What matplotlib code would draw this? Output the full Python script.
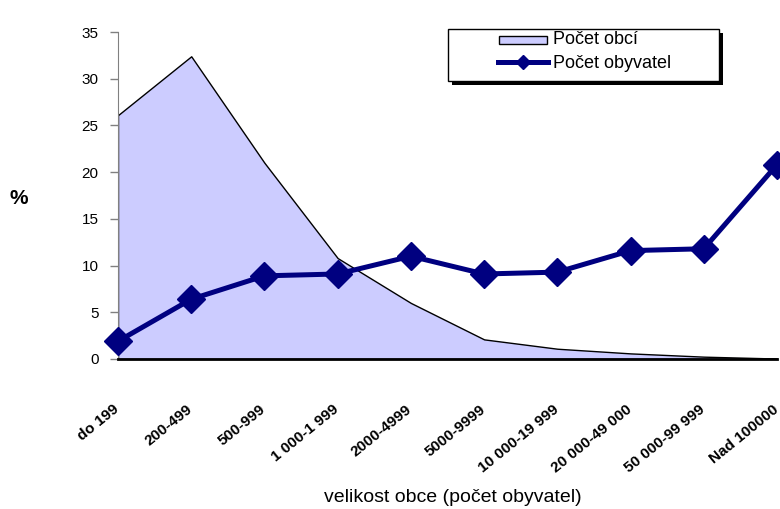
import matplotlib
matplotlib.use("Agg")
import matplotlib.pyplot as plt
from matplotlib.patches import Rectangle
from matplotlib.lines import Line2D
from matplotlib.transforms import ScaledTranslation

plt.rcParams['font.family'] = ['Liberation Sans', 'DejaVu Sans']

categories = ["do 199", "200-499", "500-999", "1 000-1 999", "2000-4999", "5000-9999",
              "10 000-19 999", "20 000-49 000", "50 000-99 999", "Nad 100000"]
pocet_obci = [26.1, 32.4, 21.0, 10.8, 6.0, 2.1, 1.1, 0.6, 0.25, 0.05]
pocet_obyvatel = [1.9, 6.4, 8.9, 9.1, 11.0, 9.1, 9.3, 11.6, 11.8, 20.8]
yticks = [0, 5, 10, 15, 20, 25, 30, 35]
legend_labels = ['Počet obcí', 'Počet obyvatel']

W, H = 780, 509
fig = plt.figure(figsize=(W / 100, H / 100), dpi=100)
ax = fig.add_axes([118 / W, 1 - 359 / H, (777 - 118) / W, (359 - 32) / H])

FILL = '#CCCCFF'
NAVY = '#000080'

x = list(range(len(categories)))
ax.fill_between(x, pocet_obci, 0, facecolor=FILL, edgecolor='black', linewidth=1.0, zorder=2)
ax.plot(x, pocet_obyvatel, color=NAVY, linewidth=3.6, marker='D', markersize=14,
        markeredgecolor=NAVY, markerfacecolor=NAVY, zorder=3, clip_on=False)

ax.set_xlim(0, len(categories) - 1)
ax.set_ylim(0, 35)
ax.set_yticks(yticks)
ax.set_yticklabels([str(v) for v in yticks], fontsize=11)
ax.set_xticks(x)
ax.set_xticklabels(categories, rotation=39, ha='right', rotation_mode='anchor',
                   fontsize=11, fontweight='bold')
ax.tick_params(axis='x', length=0, pad=31)
ax.tick_params(axis='y', length=6, width=1, color='#808080', pad=8)
off = ScaledTranslation(-5 / 100, 0, fig.dpi_scale_trans)
for lab in ax.get_xticklabels():
    lab.set_transform(lab.get_transform() + off)

for s in ['top', 'right']:
    ax.spines[s].set_visible(False)
ax.spines['left'].set_color('#808080')
ax.spines['bottom'].set_color('black')
ax.spines['bottom'].set_linewidth(2)
ax.spines['bottom'].set_zorder(4)

fig.text(18.5 / W, 1 - 198 / H, '%', fontsize=15, fontweight='bold', ha='center', va='center')
fig.text(453 / W, 1 - 497 / H, 'velikost obce (počet obyvatel)', fontsize=14, ha='center', va='center')

# legend drawn manually in figure pixel coordinates
def fx(px):
    return px / W

def fy(py):
    return 1 - py / H

lx0, lx1, ly0, ly1 = 448, 719, 29, 81
fig.add_artist(Rectangle((fx(lx0 + 4), fy(ly1 + 4)), fx(lx1 - lx0), (ly1 - ly0) / H,
                         transform=fig.transFigure, facecolor='black', edgecolor='none', zorder=5))
fig.add_artist(Rectangle((fx(lx0), fy(ly1)), fx(lx1 - lx0), (ly1 - ly0) / H,
                         transform=fig.transFigure, facecolor='white', edgecolor='black',
                         linewidth=1.0, zorder=6))
fig.add_artist(Rectangle((fx(499), fy(44)), fx(547 - 499), 8 / H, transform=fig.transFigure,
                         facecolor=FILL, edgecolor='black', linewidth=1.0, zorder=7))
fig.add_artist(Line2D([fx(498), fx(548)], [fy(62), fy(62)], transform=fig.transFigure,
                      color=NAVY, linewidth=3.6, zorder=7))
fig.add_artist(Line2D([fx(523)], [fy(62)], transform=fig.transFigure, color=NAVY,
                      marker='D', markersize=7, linestyle='none', zorder=8))
fig.text(fx(553), fy(40), legend_labels[0], fontsize=13, ha='left', va='center', zorder=8)
fig.text(fx(553), fy(63), legend_labels[1], fontsize=13, ha='left', va='center', zorder=8)

fig.savefig('out.png', dpi=100)
